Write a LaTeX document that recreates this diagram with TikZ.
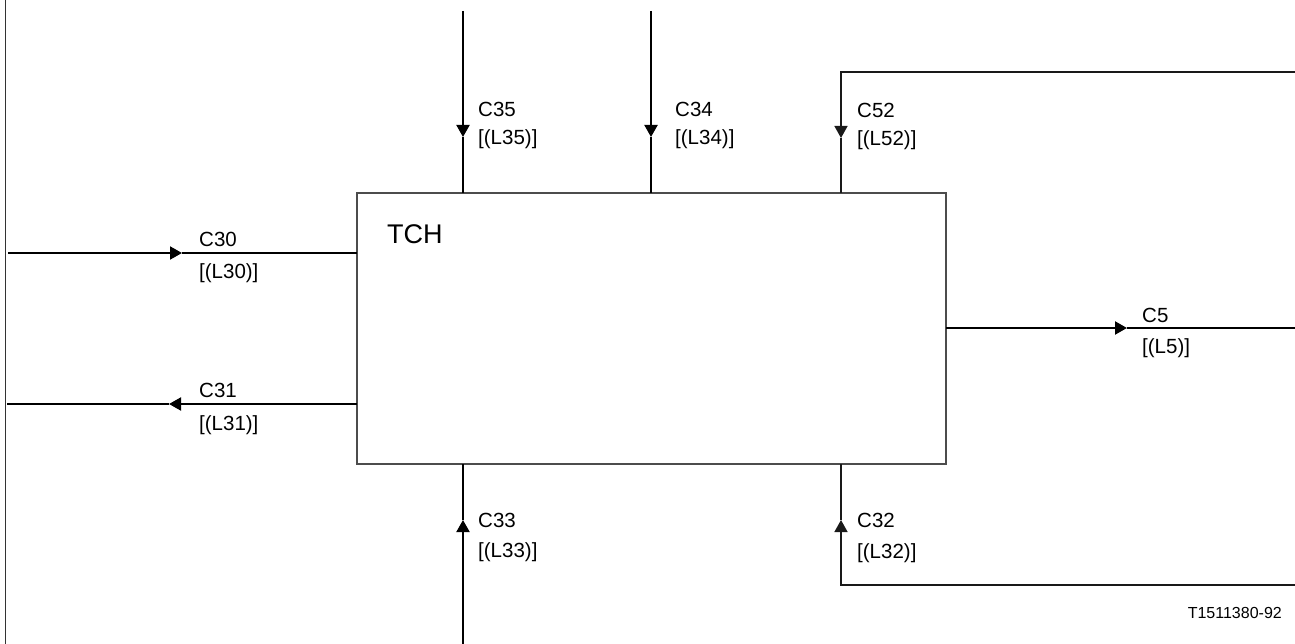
\documentclass[tikz,border=0pt]{standalone}
\usepackage{fontspec}
\setmainfont{Liberation Sans}
\usetikzlibrary{arrows.meta}
\tikzset{
  lab/.style={font=\fontsize{20.5}{24}\selectfont, anchor=base west, inner sep=0pt},
  tchlab/.style={font=\fontsize{27}{32}\selectfont, anchor=base west, inner sep=0pt},
  reflab/.style={font=\fontsize{16}{19}\selectfont, anchor=base east, inner sep=0pt},
  conn/.style={line width=2pt, black},
  loopline/.style={line width=1.4pt, black!90},
  arrowtip/.style={-{Triangle[length=12pt,width=13pt]}},
  blockbox/.style={draw=black!70, line width=1.5pt, anchor=north west, outer sep=0pt, inner sep=0pt,
    minimum width=589pt, minimum height=271pt},
  border/.style={line width=1pt, black!80}
}
\begin{document}
\begin{tikzpicture}[x=1pt,y=-1pt]
\useasboundingbox (0,0) rectangle (1295,644);
% left frame line
\coordinate (ftop) at (5,0);
\coordinate (fbot) at (5,644);
\draw[border] (ftop) -- (fbot);
% main block
\node[blockbox] (tch) at (357,193) {};
\node[tchlab] (tchname) at (387,244) {TCH};
% C35
\coordinate (c35s) at (463,11);
\coordinate (c35t) at (463,137);
\draw[conn,arrowtip] (c35s) -- (c35t);
\draw[conn] (c35t) -- (c35t |- tch.north);
\node[lab] (c35a) at (478,117) {C35};
\node[lab] (c35b) at (478,145) {[(L35)]};
% C34
\coordinate (c34s) at (651,11);
\coordinate (c34t) at (651,137);
\draw[conn,arrowtip] (c34s) -- (c34t);
\draw[conn] (c34t) -- (c34t |- tch.north);
\node[lab] (c34a) at (675,117) {C34};
\node[lab] (c34b) at (675,145) {[(L34)]};
% C52
\coordinate (c52s) at (1295,72);
\coordinate (c52c) at (841,72);
\coordinate (c52t) at (841,138);
\draw[loopline,arrowtip] (c52s) -- (c52c) -- (c52t);
\draw[loopline] (c52t) -- (c52t |- tch.north);
\node[lab] (c52a) at (857,118) {C52};
\node[lab] (c52b) at (857,146) {[(L52)]};
% C30
\coordinate (c30s) at (8,253);
\coordinate (c30t) at (182,253);
\draw[conn,arrowtip] (c30s) -- (c30t);
\draw[conn] (c30t) -- (c30t -| tch.west);
\node[lab] (c30a) at (199,247) {C30};
\node[lab] (c30b) at (199,278) {[(L30)]};
% C31
\coordinate (c31e) at (7,404);
\coordinate (c31t) at (169,404);
\draw[conn,arrowtip] (c31t -| tch.west) -- (c31t);
\draw[conn] (c31t) -- (c31e);
\node[lab] (c31a) at (199,397) {C31};
\node[lab] (c31b) at (199,430) {[(L31)]};
% C5
\coordinate (c5e) at (1295,328);
\coordinate (c5t) at (1127,328);
\draw[conn,arrowtip] (c5t -| tch.east) -- (c5t);
\draw[conn] (c5t) -- (c5e);
\node[lab] (c5a) at (1142,322) {C5};
\node[lab] (c5b) at (1142,353) {[(L5)]};
% C33
\coordinate (c33s) at (463,644);
\coordinate (c33t) at (463,520);
\draw[conn,arrowtip] (c33s) -- (c33t);
\draw[conn] (c33t) -- (c33t |- tch.south);
\node[lab] (c33a) at (478,527) {C33};
\node[lab] (c33b) at (478,557) {[(L33)]};
% C32
\coordinate (c32s) at (1295,585);
\coordinate (c32c) at (841,585);
\coordinate (c32t) at (841,520);
\draw[loopline,arrowtip] (c32s) -- (c32c) -- (c32t);
\draw[loopline] (c32t) -- (c32t |- tch.south);
\node[lab] (c32a) at (857,527) {C32};
\node[lab] (c32b) at (857,558) {[(L32)]};
% reference
\node[reflab] (ref) at (1282,618) {T1511380-92};
\end{tikzpicture}
\end{document}
